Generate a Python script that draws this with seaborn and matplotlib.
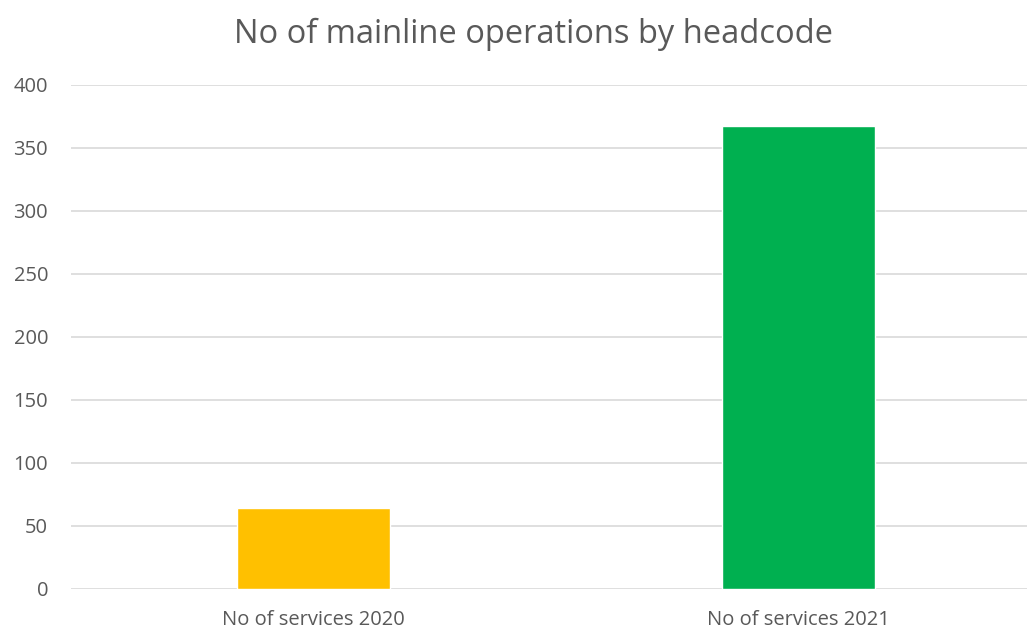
import matplotlib
matplotlib.use("Agg")
import matplotlib.pyplot as plt
import seaborn as sns
import pandas as pd

categories = ["No of services 2020", "No of services 2021"]
values = [64, 367]
colors = ["#FFC000", "#00B050"]
title = "No of mainline operations by headcode"
yticks = [0, 50, 100, 150, 200, 250, 300, 350, 400]

sns.set_theme(style="white")
plt.rcParams['font.family'] = ['Open Sans', 'DejaVu Sans']

df = pd.DataFrame({"cat": categories, "val": values})

fig = plt.figure(figsize=(10.27, 6.30), dpi=100)
ax = fig.add_axes([71/1027, 41/630, 970/1027, 504.3/630])
sns.barplot(data=df, x="cat", y="val", hue="cat", palette=colors, width=0.315,
            saturation=1, legend=False, ax=ax, zorder=3)

ax.set_ylim(0, 400)
ax.set_xlim(-0.5, 1.5)
ax.set_yticks(yticks)
ax.yaxis.grid(True, color="#D9D9D9", linewidth=1.2, zorder=0)
ax.set_axisbelow(True)
for s in ax.spines.values():
    s.set_visible(False)
ax.set_xlabel("")
ax.set_ylabel("")
ax.tick_params(axis="both", length=0, colors="#595959", labelsize=14.5)
ax.tick_params(axis="y", pad=16.5)
ax.tick_params(axis="x", pad=15)
for lbl in ax.get_yticklabels():
    lbl.set_horizontalalignment("right")

fig.text(533/1027, 1 - 34/630, title, ha="center", va="center", fontsize=23.5, color="#595959")

fig.savefig("out.png", dpi=100)
